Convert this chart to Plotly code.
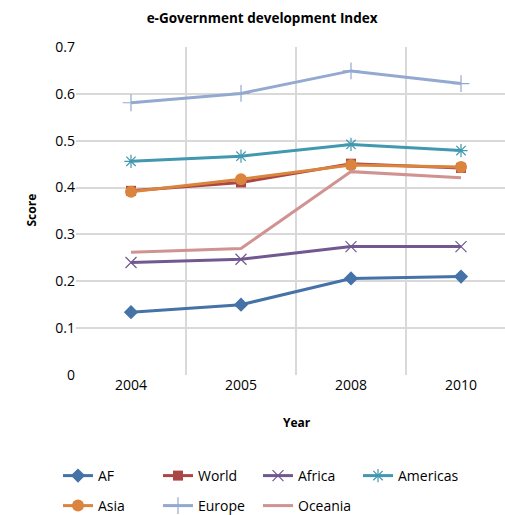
import plotly.graph_objects as go

# Survey years and e-Government development index scores by region
years = ["2004", "2005", "2008", "2010"]
af = [0.134, 0.150, 0.206, 0.210]
world = [0.393, 0.411, 0.451, 0.442]
africa = [0.240, 0.247, 0.274, 0.274]
americas = [0.456, 0.467, 0.492, 0.479]
asia = [0.391, 0.418, 0.448, 0.444]
europe = [0.581, 0.601, 0.649, 0.622]
oceania = [0.262, 0.270, 0.434, 0.421]

y_ticks = [0, 0.1, 0.2, 0.3, 0.4, 0.5, 0.6, 0.7]

FONT = "Open Sans"
pos = list(range(len(years)))

# (name, values, colour, marker, legend row)
series = [
    ("AF", af, "#4572A7", dict(symbol="diamond", size=11), "legend"),
    ("World", world, "#AA4643", dict(symbol="square", size=10), "legend"),
    ("Africa", africa, "#71588F",
     dict(symbol="x-thin", size=11, line=dict(width=1.2, color="#71588F")), "legend"),
    ("Americas", americas, "#4198AF",
     dict(symbol="asterisk", size=11, line=dict(width=1.2, color="#4198AF")), "legend"),
    ("Asia", asia, "#DB843D", dict(symbol="circle", size=12), "legend2"),
    ("Europe", europe, "#93A9CF",
     dict(symbol="cross-thin", size=12, line=dict(width=1.2, color="#93A9CF")), "legend2"),
    ("Oceania", oceania, "#D19392", None, "legend2"),
]

fig = go.Figure()
for name, vals, color, marker, leg in series:
    mode = "lines+markers" if marker else "lines"
    kw = dict(marker=dict(color=color, **marker)) if marker else {}
    fig.add_trace(go.Scatter(
        x=pos, y=vals, name=name, mode=mode, legend=leg,
        line=dict(color=color, width=3), **kw,
    ))

legend_common = dict(
    orientation="h", xref="container", yref="container",
    xanchor="left", yanchor="middle",
    entrywidth=55, entrywidthmode="pixels", itemwidth=30,
    font=dict(family=FONT, size=14, color="#000000"),
    bgcolor="rgba(0,0,0,0)",
)

fig.update_layout(
    width=505, height=515,
    margin=dict(l=76, r=0, t=47, b=140),
    paper_bgcolor="white", plot_bgcolor="white",
    font=dict(family=FONT, size=14, color="#000000"),
    title=dict(
        text="<b>e-Government development Index</b>",
        x=0.519, xref="container", xanchor="center",
        y=1 - 18 / 515, yref="container", yanchor="middle",
        font=dict(family=FONT, size=13.5, color="#000000"),
    ),
    showlegend=True,
    legend=dict(x=58 / 505, y=1 - 476 / 515, **legend_common),
    legend2=dict(x=58 / 505, y=1 - 506 / 515, **legend_common),
)

fig.update_xaxes(
    range=[-0.5, -0.5 + 429 / 110],
    tickvals=pos, ticktext=years, showgrid=False,
    ticks="", zeroline=False, showline=False,
    tickfont=dict(family=FONT, size=14),
    minor=dict(tickvals=[-0.5, 0.5, 1.5, 2.5, 3.5], showgrid=True,
               gridcolor="#D9D9D9", gridwidth=1.5),
)
fig.update_yaxes(
    range=[0, 0.7], tickvals=y_ticks, ticktext=[f"{v:g}" for v in y_ticks],
    showgrid=True, gridcolor="#D9D9D9", gridwidth=1.5,
    zeroline=False, showline=False, ticks="", ticklen=0,
    tickfont=dict(family=FONT, size=14),
)

fig.add_annotation(text="<b>Score</b>", xref="x domain", yref="y domain",
                   x=(20 - 76) / 429, y=(375 - 210) / 328, showarrow=False,
                   textangle=-90, font=dict(family=FONT, size=12))
fig.add_annotation(text="<b>Year</b>", xref="x domain", yref="y domain",
                   x=(297 - 76) / 429, y=(375 - 433) / 328, showarrow=False,
                   font=dict(family=FONT, size=12))

fig.write_html("out.html")
